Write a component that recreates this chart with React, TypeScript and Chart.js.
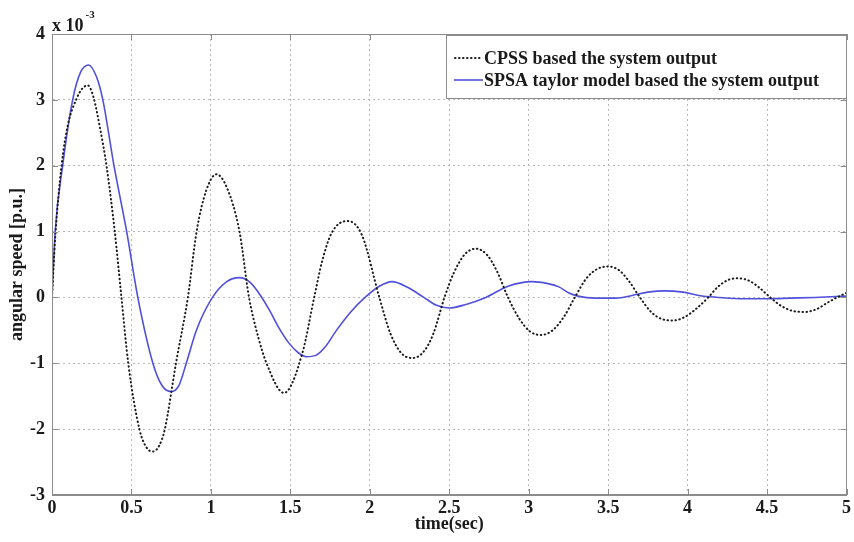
import React, { useEffect, useRef } from 'react';
import { Chart, registerables } from 'chart.js';

Chart.register(...registerables);

// ---- data (values in units of 1e-3 p.u.) ----
const cpssTime = [0, 0.02, 0.06, 0.1, 0.155, 0.19, 0.225, 0.26, 0.3, 0.343, 0.395, 0.437, 0.48, 0.55, 0.595, 0.635, 0.675, 0.71, 0.78, 0.855, 0.91, 0.97, 1.035, 1.1, 1.18, 1.24, 1.3, 1.35, 1.46, 1.575, 1.65, 1.7, 1.76, 1.86, 1.95, 2.06, 2.13, 2.2, 2.27, 2.34, 2.4, 2.47, 2.53, 2.6, 2.67, 2.74, 2.8, 2.87, 2.94, 3.01, 3.08, 3.15, 3.22, 3.29, 3.36, 3.43, 3.5, 3.57, 3.63, 3.7, 3.77, 3.84, 3.91, 3.98, 4.05, 4.13, 4.19, 4.26, 4.32, 4.39, 4.45, 4.52, 4.59, 4.67, 4.74, 4.81, 4.88, 4.94, 5.0];
const cpssValues = [0, 0.9, 2.0, 2.62, 3.02, 3.17, 3.22, 3.05, 2.6, 2.0, 1.0, 0.0, -1.0, -2.0, -2.28, -2.34, -2.25, -2.0, -1.0, 0.0, 1.0, 1.62, 1.87, 1.67, 1.0, 0.0, -0.62, -1.0, -1.45, -0.85, 0.0, 0.55, 0.98, 1.16, 0.95, 0.0, -0.55, -0.85, -0.92, -0.82, -0.55, 0.0, 0.38, 0.66, 0.74, 0.64, 0.4, 0.0, -0.32, -0.52, -0.57, -0.5, -0.3, 0.0, 0.28, 0.43, 0.47, 0.41, 0.25, 0.0, -0.22, -0.33, -0.35, -0.3, -0.18, 0.0, 0.16, 0.27, 0.29, 0.25, 0.15, 0.0, -0.13, -0.21, -0.22, -0.18, -0.08, 0.0, 0.07];

const spsaTime = [0, 0.02, 0.067, 0.13, 0.18, 0.23, 0.28, 0.32, 0.39, 0.47, 0.54, 0.635, 0.69, 0.75, 0.8, 0.845, 0.91, 1.01, 1.1, 1.18, 1.25, 1.32, 1.37, 1.43, 1.49, 1.55, 1.6, 1.66, 1.72, 1.79, 1.88, 1.97, 2.06, 2.14, 2.24, 2.34, 2.42, 2.5, 2.6, 2.73, 2.87, 3.02, 3.12, 3.19, 3.25, 3.31, 3.42, 3.55, 3.65, 3.75, 3.86, 3.97, 4.07, 4.2, 4.35, 4.5, 4.65, 4.8, 5.0];
const spsaValues = [0, 1.0, 2.0, 3.0, 3.42, 3.53, 3.35, 3.0, 2.0, 1.0, 0.0, -1.0, -1.33, -1.43, -1.33, -1.0, -0.49, 0.0, 0.24, 0.3, 0.22, 0.0, -0.2, -0.47, -0.69, -0.84, -0.9, -0.88, -0.75, -0.5, -0.22, 0.0, 0.17, 0.24, 0.15, 0.0, -0.12, -0.16, -0.11, 0.0, 0.17, 0.24, 0.21, 0.16, 0.07, 0.02, -0.01, -0.01, 0.03, 0.08, 0.1, 0.08, 0.03, 0.0, -0.02, -0.02, -0.01, 0.0, 0.02];

const legendLabels = ['CPSS based the system output', 'SPSA taylor model based the system output'];
const xAxisTitle = 'time(sec)';
const yAxisTitle = 'angular speed [p.u.]';
const exponentBase = 'x 10';
const exponentPower = '-3';

const FONT = '"Liberation Serif", "Times New Roman", serif';
const AXIS_GRAY = '#8c8c8c';
const BLUE = '#5050dc';
const DOT = '#1a1a1a';

const overlayPlugin = {
  id: 'overlay',
  afterDraw(chart: any) {
    const { ctx, chartArea: a, scales } = chart;
    const xs = scales.x;
    const ys = scales.y;
    ctx.save();
    // box
    ctx.strokeStyle = AXIS_GRAY;
    ctx.lineWidth = 1;
    ctx.strokeRect(Math.round(a.left) + 0.5, Math.round(a.top) + 0.5, Math.round(a.right - a.left) - 1, Math.round(a.bottom - a.top) - 1);
    // inward tick marks
    const tl = 6;
    ctx.beginPath();
    xs.ticks.forEach((t: any) => {
      const px = Math.round(xs.getPixelForValue(t.value)) + 0.5;
      ctx.moveTo(px, a.bottom);
      ctx.lineTo(px, a.bottom - tl);
      ctx.moveTo(px, a.top);
      ctx.lineTo(px, a.top + tl);
    });
    ys.ticks.forEach((t: any) => {
      const py = Math.round(ys.getPixelForValue(t.value)) + 0.5;
      ctx.moveTo(a.left, py);
      ctx.lineTo(a.left + tl, py);
      ctx.moveTo(a.right, py);
      ctx.lineTo(a.right - tl, py);
    });
    ctx.stroke();

    // legend (top-right, inside the plot)
    ctx.font = `bold 18px ${FONT}`;
    const boxRight = Math.round(a.right) - 1;
    const boxW = 400;
    const boxLeft = boxRight - boxW;
    const boxTop = Math.round(a.top) + 1;
    const boxH = 63;
    ctx.fillStyle = '#ffffff';
    ctx.fillRect(boxLeft, boxTop, boxW, boxH);
    ctx.strokeStyle = AXIS_GRAY;
    ctx.strokeRect(boxLeft + 0.5, boxTop + 0.5, boxW, boxH);
    const rows = [boxTop + 23, boxTop + 45];
    ctx.lineCap = 'round';
    ctx.lineWidth = 2;
    ctx.strokeStyle = DOT;
    ctx.setLineDash([0.5, 3.5]);
    ctx.beginPath();
    ctx.moveTo(boxLeft + 9, rows[0]);
    ctx.lineTo(boxLeft + 36, rows[0]);
    ctx.stroke();
    ctx.setLineDash([]);
    ctx.lineCap = 'butt';
    ctx.lineWidth = 1.6;
    ctx.strokeStyle = BLUE;
    ctx.beginPath();
    ctx.moveTo(boxLeft + 8, rows[1]);
    ctx.lineTo(boxLeft + 37, rows[1]);
    ctx.stroke();
    ctx.fillStyle = '#1a1a1a';
    ctx.textAlign = 'left';
    ctx.textBaseline = 'middle';
    legendLabels.forEach((l, i) => ctx.fillText(l, boxLeft + 38, rows[i] + 1));

    // exponent label
    ctx.font = `bold 18px ${FONT}`;
    ctx.textBaseline = 'alphabetic';
    ctx.fillText(exponentBase, a.left, a.top - 3);
    const bw = ctx.measureText(exponentBase).width;
    ctx.font = `bold 11px ${FONT}`;
    ctx.fillText(exponentPower, a.left + bw + 2, a.top - 16);
    ctx.restore();
  },
};

const fmtTick = (v: any) => `${Math.round(Number(v) * 10) / 10}`;

export default function App() {
  const ref = useRef<HTMLCanvasElement | null>(null);
  useEffect(() => {
    if (!ref.current) return;
    const chart = new Chart(ref.current, {
      type: 'line',
      data: {
        datasets: [
          {
            label: legendLabels[0],
            data: cpssTime.map((t, i) => ({ x: t, y: cpssValues[i] })),
            borderColor: DOT,
            borderWidth: 2,
            borderDash: [0.5, 3.5],
            borderCapStyle: 'round',
            pointRadius: 0,
            cubicInterpolationMode: 'monotone',
            fill: false,
          },
          {
            label: legendLabels[1],
            data: spsaTime.map((t, i) => ({ x: t, y: spsaValues[i] })),
            borderColor: BLUE,
            borderWidth: 1.6,
            pointRadius: 0,
            cubicInterpolationMode: 'monotone',
            fill: false,
          },
        ],
      },
      options: {
        responsive: false,
        animation: false,
        layout: { padding: { top: 34, right: 5, left: 0, bottom: 0 } },
        plugins: { legend: { display: false }, tooltip: { enabled: false } },
        scales: {
          x: {
            type: 'linear',
            min: 0,
            max: 5,
            afterFit: (s: any) => { s.height = 47; },
            ticks: { stepSize: 0.5, callback: fmtTick, color: '#1a1a1a', padding: 3, font: { family: FONT, size: 18, weight: 'bold' }, maxRotation: 0 },
            grid: { color: '#b8b8b8', lineWidth: 1, drawTicks: false },
            border: { display: true, color: AXIS_GRAY, dash: [2, 3] },
            title: { display: true, text: xAxisTitle, color: '#1a1a1a', padding: { top: 0, bottom: 7 }, font: { family: FONT, size: 18, weight: 'bold' } },
          },
          y: {
            type: 'linear',
            min: -3,
            max: 4,
            afterFit: (s: any) => { s.width = 52; },
            ticks: { stepSize: 1, callback: fmtTick, color: '#1a1a1a', padding: 7, font: { family: FONT, size: 18, weight: 'bold' } },
            grid: { color: '#b8b8b8', lineWidth: 1, drawTicks: false },
            border: { display: true, color: AXIS_GRAY, dash: [2, 3] },
            title: { display: true, text: yAxisTitle, color: '#1a1a1a', padding: { top: 7, bottom: 0 }, font: { family: FONT, size: 18, weight: 'bold' } },
          },
        },
      },
      plugins: [overlayPlugin],
    } as any);
    return () => chart.destroy();
  }, []);
  return (
    <div style={{ position: 'absolute', left: 0, top: 0, width: 854, height: 542, background: '#fff' }}>
      <canvas ref={ref} width={854} height={542} style={{ display: 'block' }} />
    </div>
  );
}
